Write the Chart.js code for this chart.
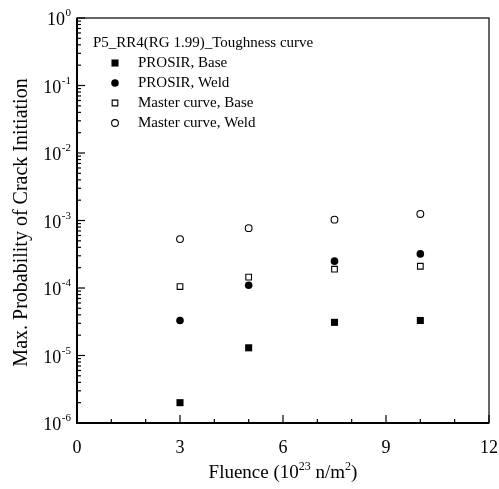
<!DOCTYPE html>
<html>
<head>
<meta charset="utf-8">
<script src="https://cdn.jsdelivr.net/npm/chart.js@4/dist/chart.umd.min.js"></script>
<style>
  body { margin: 0; background: #fff; }
  #wrap { width: 499px; height: 489px; }
</style>
</head>
<body>
<div id="wrap"><canvas id="probChart" width="499" height="489"></canvas></div>
<script>
// data
const fluence = [3, 5, 7.5, 10];
const prosirBase = [2.0e-6, 1.3e-5, 3.1e-5, 3.3e-5];
const prosirWeld = [3.3e-5, 1.1e-4, 2.5e-4, 3.2e-4];
const masterBase = [1.05e-4, 1.45e-4, 1.9e-4, 2.1e-4];
const masterWeld = [5.3e-4, 7.7e-4, 1.03e-3, 1.25e-3];

const seriesNames = ["PROSIR, Base", "PROSIR, Weld", "Master curve, Base", "Master curve, Weld"];
const legendTitle = "P5_RR4(RG 1.99)_Toughness curve";
const xTickLabels = [0, 3, 6, 9, 12];
const yDecades = [-6, -5, -4, -3, -2, -1, 0];

const serif = "'Liberation Serif', 'Times New Roman', serif";

function toPoints(ys) {
  return fluence.map((x, i) => ({ x: x, y: ys[i] }));
}

const datasets = [
  { label: seriesNames[0], data: toPoints(prosirBase), pointStyle: "rect", pointRadius: 5,
    backgroundColor: "#000", borderColor: "#000", borderWidth: 0 },
  { label: seriesNames[1], data: toPoints(prosirWeld), pointStyle: "circle", pointRadius: 3.8,
    backgroundColor: "#000", borderColor: "#000", borderWidth: 0 },
  { label: seriesNames[2], data: toPoints(masterBase), pointStyle: "rect", pointRadius: 4,
    backgroundColor: "#fff", borderColor: "#000", borderWidth: 1.1 },
  { label: seriesNames[3], data: toPoints(masterWeld), pointStyle: "circle", pointRadius: 3.4,
    backgroundColor: "#fff", borderColor: "#000", borderWidth: 1.1 }
];

// frame, inward ticks, superscript labels, titles and legend
const decorPlugin = {
  id: "decor",
  afterDraw(chart) {
    const ctx = chart.ctx;
    const area = chart.chartArea;
    const xs = chart.scales.x;
    const ys = chart.scales.y;
    ctx.save();
    ctx.strokeStyle = "#000";
    ctx.fillStyle = "#000";

    // box
    ctx.lineWidth = 1.2;
    ctx.strokeRect(area.left, area.top, area.right - area.left, area.bottom - area.top);
    ctx.lineWidth = 2;
    ctx.beginPath();
    ctx.moveTo(area.left, area.top);
    ctx.lineTo(area.left, area.bottom);
    ctx.lineTo(area.right, area.bottom);
    ctx.stroke();

    // x ticks
    ctx.lineWidth = 1.2;
    xs.ticks.forEach(t => {
      const px = xs.getPixelForValue(t.value);
      const len = t.value % 3 === 0 ? 8 : 4;
      ctx.beginPath();
      ctx.moveTo(px, area.bottom);
      ctx.lineTo(px, area.bottom - len);
      ctx.stroke();
    });

    // y ticks
    ys.ticks.forEach(t => {
      const py = ys.getPixelForValue(t.value);
      const lg = Math.log10(t.value);
      const major = Math.abs(lg - Math.round(lg)) < 1e-6;
      const len = major ? 8 : 4;
      ctx.beginPath();
      ctx.moveTo(area.left, py);
      ctx.lineTo(area.left + len, py);
      ctx.stroke();
    });

    // y labels 10^n
    yDecades.forEach(d => {
      const py = ys.getPixelForValue(Math.pow(10, d));
      const exp = String(d);
      ctx.font = "11px " + serif;
      const ew = ctx.measureText(exp).width;
      ctx.textAlign = "left";
      ctx.textBaseline = "alphabetic";
      const expX = 71 - ew;
      ctx.fillText(exp, expX, py - 2);
      ctx.font = "18px " + serif;
      ctx.textAlign = "right";
      ctx.fillText("10", expX - 0.5, py + 7);
    });

    // x title
    ctx.textBaseline = "alphabetic";
    const parts = [["Fluence (10", 19, 0], ["23", 12, -8], [" n/m", 19, 0], ["2", 12, -8], [")", 19, 0]];
    let total = 0;
    parts.forEach(p => { ctx.font = p[1] + "px " + serif; total += ctx.measureText(p[0]).width; });
    let cx = (area.left + area.right) / 2 - total / 2;
    parts.forEach(p => {
      ctx.font = p[1] + "px " + serif;
      ctx.textAlign = "left";
      ctx.fillText(p[0], cx, 478 + p[2]);
      cx += ctx.measureText(p[0]).width;
    });

    // y title
    ctx.save();
    ctx.translate(27, (area.top + area.bottom) / 2 + 2);
    ctx.rotate(-Math.PI / 2);
    ctx.font = "20px " + serif;
    ctx.textAlign = "center";
    ctx.fillText("Max. Probability of Crack Initiation", 0, 0);
    ctx.restore();

    // legend
    ctx.font = "15px " + serif;
    ctx.textAlign = "left";
    ctx.textBaseline = "middle";
    ctx.fillText(legendTitle, 93, 43);
    chart.data.datasets.forEach((ds, i) => {
      const ly = 63 + i * 20;
      const opts = {
        pointStyle: ds.pointStyle,
        radius: ds.pointRadius,
        borderWidth: ds.borderWidth,
        rotation: 0
      };
      ctx.fillStyle = ds.backgroundColor;
      ctx.strokeStyle = ds.borderColor;
      ctx.lineWidth = ds.borderWidth;
      Chart.helpers.drawPoint(ctx, opts, 115, ly);
      ctx.fillStyle = "#000";
      ctx.fillText(ds.label, 138, ly);
    });
    ctx.restore();
  }
};

new Chart(document.getElementById("probChart"), {
  type: "scatter",
  data: { datasets: datasets },
  options: {
    responsive: false,
    animation: false,
    layout: { padding: { top: 18, right: 10, left: 0, bottom: 0 } },
    plugins: { legend: { display: false }, tooltip: { enabled: false } },
    scales: {
      x: {
        type: "linear",
        min: 0,
        max: 12,
        border: { display: false },
        grid: { display: false },
        afterBuildTicks(scale) {
          const t = [];
          for (let v = 0; v <= 12; v++) t.push({ value: v });
          scale.ticks = t;
        },
        ticks: {
          color: "#000",
          padding: 6,
          maxRotation: 0,
          autoSkip: false,
          font: { family: serif, size: 18 },
          callback: v => (xTickLabels.includes(v) ? String(v) : "")
        },
        afterFit(scale) {
          scale.height = 66;
          scale.paddingLeft = 0;
          scale.paddingRight = 0;
        }
      },
      y: {
        type: "logarithmic",
        min: 1e-6,
        max: 1,
        border: { display: false },
        grid: { display: false },
        afterBuildTicks(scale) {
          const t = [];
          for (let d = -6; d < 0; d++) {
            for (let m = 1; m <= 9; m++) t.push({ value: m * Math.pow(10, d) });
          }
          t.push({ value: 1 });
          scale.ticks = t;
        },
        ticks: { display: false },
        afterFit(scale) {
          scale.width = 77;
          scale.paddingTop = 0;
          scale.paddingBottom = 0;
        }
      }
    }
  },
  plugins: [decorPlugin]
});
</script>
</body>
</html>
